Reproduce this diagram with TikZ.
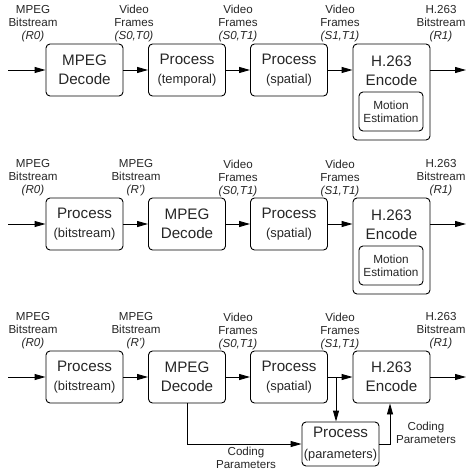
\documentclass[tikz,border=0pt]{standalone}
\usepackage{fontspec}
\setmainfont{Liberation Sans}
\usetikzlibrary{arrows.meta}
\begin{document}
\begin{tikzpicture}[x=1pt,y=-1pt,
  box/.style={draw,line width=0.9pt,rounded corners=4pt,minimum width=77pt,minimum height=52pt,inner sep=0pt,align=center,text=black!85,font=\fontsize{15.2}{19}\selectfont},
  tallbox/.style={draw,line width=0.9pt,rounded corners=4pt,minimum width=77pt,minimum height=96pt,inner sep=0pt},
  innerbox/.style={draw,line width=0.9pt,rounded corners=4pt,minimum width=64pt,minimum height=39pt,inner sep=0pt,align=center,font=\fontsize{11.8}{13}\selectfont,text=black!85},
  plain/.style={inner sep=0pt,align=center,text=black!85,font=\fontsize{15.2}{19}\selectfont},
  lbl/.style={inner sep=0pt,align=center,font=\fontsize{11.6}{13}\selectfont,text=black!85},
  flow/.style={line width=0.9pt,-{Triangle[length=11pt,width=6pt]}}
]
\newcommand{\mainsub}[2]{#1\\\fontsize{12.9}{19}\selectfont #2}
\newcommand{\maintwo}[2]{#1\\#2}
\newcommand{\lab}[3]{#1\\#2\\\textit{#3}}
\useasboundingbox (0,0) rectangle (466,470);

% ---------- Row 1 ----------
\coordinate (a0) at (8,70);
\node[box] (a1) at (84.5,70) {\maintwo{MPEG}{Decode}};
\node[box] (a2) at (187,70) {\mainsub{Process}{(temporal)}};
\node[box] (a3) at (289,70) {\mainsub{Process}{(spatial)}};
\node[tallbox] (a4) at (391.5,92) {};
\node[plain] (a4t) at (391.5,70.5) {\maintwo{H.263}{Encode}};
\node[innerbox] (a4m) at (391,111.5) {Motion\\Estimation};
\coordinate (a5) at (466,70);
\draw[flow] (a0) -- (a1);
\draw[flow] (a1) -- (a2);
\draw[flow] (a2) -- (a3);
\draw[flow] (a3) -- (a3 -| a4.west);
\draw[flow] (a4.east |- a0) -- (a5);
\node[lbl] (la1) at (33,24) {\lab{MPEG}{Bitstream}{(R0)}};
\node[lbl] (la2) at (134,24) {\lab{Video}{Frames}{(S0,T0)}};
\node[lbl] (la3) at (238,24) {\lab{Video}{Frames}{(S0,T1)}};
\node[lbl] (la4) at (340,24) {\lab{Video}{Frames}{(S1,T1)}};
\node[lbl] (la5) at (441,24) {\lab{H.263}{Bitstream}{(R1)}};

% ---------- Row 2 ----------
\coordinate (b0) at (8,224);
\node[box] (b1) at (84.5,224) {\mainsub{Process}{(bitstream)}};
\node[box] (b2) at (187,224) {\maintwo{MPEG}{Decode}};
\node[box] (b3) at (289,224) {\mainsub{Process}{(spatial)}};
\node[tallbox] (b4) at (391.5,246) {};
\node[plain] (b4t) at (391.5,224.5) {\maintwo{H.263}{Encode}};
\node[innerbox] (b4m) at (391,265.5) {Motion\\Estimation};
\coordinate (b5) at (466,224);
\draw[flow] (b0) -- (b1);
\draw[flow] (b1) -- (b2);
\draw[flow] (b2) -- (b3);
\draw[flow] (b3) -- (b3 -| b4.west);
\draw[flow] (b4.east |- b0) -- (b5);
\node[lbl] (lb1) at (33,178) {\lab{MPEG}{Bitstream}{(R0)}};
\node[lbl] (lb2) at (136,178) {\lab{MPEG}{Bitstream}{(R')}};
\node[lbl] (lb3) at (238,178) {\lab{Video}{Frames}{(S0,T1)}};
\node[lbl] (lb4) at (340,178) {\lab{Video}{Frames}{(S1,T1)}};
\node[lbl] (lb5) at (441,178) {\lab{H.263}{Bitstream}{(R1)}};

% ---------- Row 3 ----------
\coordinate (c0) at (8,377);
\node[box] (c1) at (84.5,377) {\mainsub{Process}{(bitstream)}};
\node[box] (c2) at (187,377) {\maintwo{MPEG}{Decode}};
\node[box] (c3) at (289,377) {\mainsub{Process}{(spatial)}};
\node[box] (c4) at (391.5,377) {\maintwo{H.263}{Encode}};
\node[box,minimum height=44pt,font=\fontsize{15.2}{21}\selectfont] (cp) at (340.5,444) {Process\\\fontsize{12.8}{21}\selectfont (parameters)};
\coordinate (c5) at (466,377);
\coordinate (cb) at (336,377);
\draw[flow] (c0) -- (c1);
\draw[flow] (c1) -- (c2);
\draw[flow] (c2) -- (c3);
\draw[flow] (c3) -- (c4);
\draw[flow] (c4) -- (c5);
\draw[flow] (cb) -- (cb |- cp.north);
\draw[flow] (c2.south) |- (cp.west);
\draw[flow] (cp.east) -| ([xshift=-1.5pt]c4.south);
\node[lbl] (lc1) at (33,331) {\lab{MPEG}{Bitstream}{(R0)}};
\node[lbl] (lc2) at (136,331) {\lab{MPEG}{Bitstream}{(R')}};
\node[lbl] (lc3) at (238,331) {\lab{Video}{Frames}{(S0,T1)}};
\node[lbl] (lc4) at (340,331) {\lab{Video}{Frames}{(S1,T1)}};
\node[lbl] (lc5) at (441,331) {\lab{H.263}{Bitstream}{(R1)}};
\node[lbl] (lcp1) at (246,458) {Coding\\Parameters};
\node[lbl] (lcp2) at (426,432.5) {Coding\\Parameters};
\end{tikzpicture}
\end{document}
